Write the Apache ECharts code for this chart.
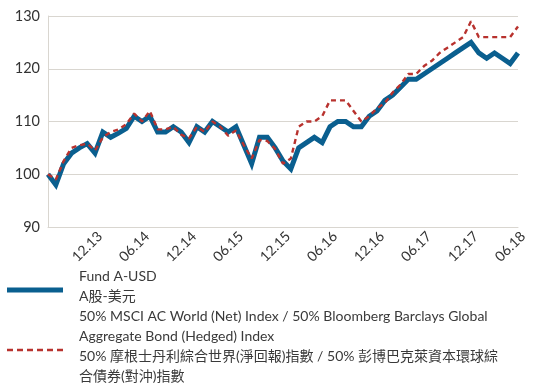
<!DOCTYPE html>
<html>
<head>
<meta charset="utf-8">
<script src="https://cdn.jsdelivr.net/npm/echarts@6/dist/echarts.min.js"></script>
<style>
  html, body { margin: 0; padding: 0; background: #fff; }
  #chart { width: 554px; height: 385px; }
</style>
</head>
<body>
<div id="chart"></div>
<script>
// monthly points, 06.13 -> 06.18
const months = [
  '06.13', '07.13', '08.13', '09.13', '10.13', '11.13', '12.13',
  '01.14', '02.14', '03.14', '04.14', '05.14', '06.14', '07.14', '08.14', '09.14', '10.14', '11.14', '12.14',
  '01.15', '02.15', '03.15', '04.15', '05.15', '06.15', '07.15', '08.15', '09.15', '10.15', '11.15', '12.15',
  '01.16', '02.16', '03.16', '04.16', '05.16', '06.16', '07.16', '08.16', '09.16', '10.16', '11.16', '12.16',
  '01.17', '02.17', '03.17', '04.17', '05.17', '06.17', '07.17', '08.17', '09.17', '10.17', '11.17', '12.17',
  '01.18', '02.18', '03.18', '04.18', '05.18', '06.18'
];

const fundValues = [
  100, 98, 102, 104, 105, 105.8, 104,
  108, 107, 107.8, 108.7, 111, 110, 111, 108, 108, 109, 108, 106,
  109, 108, 110, 109, 108, 109, 105.5, 102, 107, 107, 105, 102.5,
  101, 105, 106, 107, 106, 109, 110, 110, 109, 109, 111, 112,
  114, 115, 116.5, 118, 118, 119, 120, 121, 122, 123, 124, 125,
  123, 122, 123, 122, 121, 123
];

const benchValues = [
  100, 99, 102.5, 105, 105.5, 105.8, 104.5,
  107, 108, 108.5, 109.5, 111.5, 110, 112, 108.5, 108.5, 109, 107.5, 106.8,
  109, 108, 110, 109, 107.3, 108.3, 105.5, 103, 106.5, 106.3, 104.8, 102,
  103, 109, 110, 110, 111, 114, 114, 114, 112, 110, 111, 112.5,
  113.5, 115.5, 117, 119, 119, 120.5, 121.5, 123, 124, 125, 126, 129,
  126, 126, 126, 126, 126, 128
];

const fundName = 'Fund A-USD\nA股-美元';
const benchName = '50% MSCI AC World (Net) Index / 50% Bloomberg Barclays Global\n' +
  'Aggregate Bond (Hedged) Index\n' +
  '50% 摩根士丹利綜合世界(淨回報)指數 / 50% 彭博巴克萊資本環球綜\n' +
  '合債券(對沖)指數';

const font = 'Lato, "Noto Sans CJK TC", sans-serif';
const blue = '#0a5f8f';
const red = '#b8322e';

// legend swatches; the empty move at the top pushes the visible mark a little lower
const solidIcon = 'path://M0,-8 L0.01,-8 Z M0,0 L56,0 L56,5 L0,5 Z';
const dashIcon = 'path://M0,-8 L0.01,-8 Z M0,0 h6 v2.5 h-6 Z M10,0 h6 v2.5 h-6 Z M20,0 h6 v2.5 h-6 Z' +
  ' M30,0 h6 v2.5 h-6 Z M40,0 h6 v2.5 h-6 Z M50,0 h6 v2.5 h-6 Z';

const chart = echarts.init(document.getElementById('chart'), null, { renderer: 'canvas' });

chart.setOption({
  animation: false,
  backgroundColor: '#fff',
  textStyle: { fontFamily: font },
  grid: { left: 48, right: 36, top: 16, bottom: 158 },
  legend: {
    orient: 'vertical',
    left: 7,
    top: 266,
    height: 200,
    padding: 0,
    itemWidth: 56,
    itemHeight: 14,
    itemGap: 0,
    textStyle: {
      fontFamily: font,
      fontSize: 14,
      lineHeight: 20,
      color: '#3a3a3a',
      padding: [0, 0, 0, 11]
    },
    data: [
      { name: fundName, icon: solidIcon, itemStyle: { color: blue } },
      { name: benchName, icon: dashIcon, itemStyle: { color: red } }
    ]
  },
  xAxis: {
    type: 'category',
    data: months,
    boundaryGap: false,
    axisLine: { lineStyle: { color: '#d9d6d0' } },
    axisTick: { show: false },
    splitLine: { show: false },
    axisLabel: {
      rotate: 45,
      color: '#333',
      fontSize: 14,
      margin: 2,
      verticalAlign: 'top',
      interval: (i) => i > 0 && i % 6 === 0
    }
  },
  yAxis: {
    type: 'value',
    min: 90,
    max: 130,
    interval: 10,
    axisLine: { show: true, lineStyle: { color: '#d9d6d0' } },
    axisTick: { show: false },
    splitLine: { lineStyle: { color: '#d9d6d0', width: 1 } },
    axisLabel: { color: '#333', fontSize: 14.5, margin: 8 }
  },
  series: [
    {
      name: fundName,
      type: 'line',
      data: fundValues,
      symbol: 'none',
      z: 2,
      lineStyle: { color: blue, width: 5, join: 'miter' },
      itemStyle: { color: blue }
    },
    {
      name: benchName,
      type: 'line',
      data: benchValues,
      symbol: 'none',
      z: 3,
      lineStyle: { color: red, width: 2.4, type: [5, 4] },
      itemStyle: { color: red }
    }
  ]
});
</script>
</body>
</html>
